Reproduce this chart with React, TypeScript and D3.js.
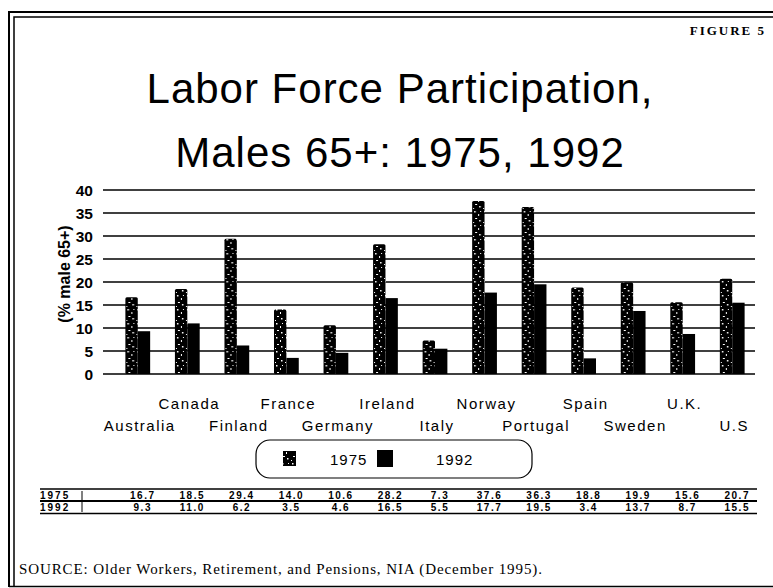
import React from 'react';
import * as d3 from 'd3';

const countries = ['Australia', 'Canada', 'Finland', 'France', 'Germany', 'Ireland', 'Italy', 'Norway', 'Portugal', 'Spain', 'Sweden', 'U.K.', 'U.S'];
const values1975 = [16.7, 18.5, 29.4, 14.0, 10.6, 28.2, 7.3, 37.6, 36.3, 18.8, 19.9, 15.6, 20.7];
const values1992 = [9.3, 11.0, 6.2, 3.5, 4.6, 16.5, 5.5, 17.7, 19.5, 3.4, 13.7, 8.7, 15.5];
const seriesNames = ['1975', '1992'];
const yTicks = [0, 5, 10, 15, 20, 25, 30, 35, 40];
const titleLines = ['Labor Force Participation,', 'Males 65+: 1975, 1992'];
const yAxisTitle = '(% male 65+)';
const figureLabel = 'FIGURE 5';
const sourceText = 'SOURCE: Older Workers, Retirement, and Pensions, NIA (December 1995).';

const W = 773;
const H = 588;

export default function App() {
  const x = d3.scaleBand<string>().domain(countries).range([113, 757]).paddingInner(0.5).paddingOuter(0.25);
  const xs = d3.scaleBand<string>().domain(seriesNames).range([0, x.bandwidth()]);
  const y = d3.scaleLinear().domain([0, 40]).range([374, 190]);
  const seriesValues = [values1975, values1992];
  const sans = 'Liberation Sans, Arial, sans-serif';
  const serif = 'Liberation Serif, Times New Roman, serif';

  return (
    <svg width={W} height={H} style={{ position: 'absolute', left: 0, top: 0, background: '#fff' }}>
      <defs>
        <pattern id="speckle" width="10" height="14" patternUnits="userSpaceOnUse">
          <rect width="10" height="14" fill="#000" />
          <rect x="2" y="1" width="1.5" height="1.5" fill="#fff" />
          <rect x="6" y="4" width="1" height="2" fill="#fff" />
          <rect x="3" y="8" width="2" height="1" fill="#fff" />
          <rect x="7" y="10" width="1.5" height="1.5" fill="#fff" />
          <rect x="1" y="12" width="1" height="1" fill="#fff" />
          <rect x="8" y="1" width="1" height="1" fill="#fff" />
        </pattern>
      </defs>
      <rect width={W} height={H} fill="#fff" />
      {/* frame */}
      <path d={`M9,${H - 1} V12 H${W}`} fill="none" stroke="#000" strokeWidth={2} />
      <path d={`M14,${H - 1} V17 H${W}`} fill="none" stroke="#000" strokeWidth={1.5} />
      <line x1={9} x2={W} y1={H - 1.5} y2={H - 1.5} stroke="#000" strokeWidth={1.5} />

      <text x={766} y={35} textAnchor="end" fontFamily={serif} fontWeight="bold" fontSize={13} letterSpacing={2}>{figureLabel}</text>

      {titleLines.map((t, i) => (
        <text key={t} x={400} y={103 + i * 64} textAnchor="middle" fontFamily={sans} fontSize={42} letterSpacing={1}>{t}</text>
      ))}

      {/* gridlines */}
      {yTicks.map((t) => (
        <g key={t}>
          <line x1={103} x2={755} y1={y(t)} y2={y(t)} stroke="#000" strokeWidth={1.3} />
          <text x={93} y={y(t) + 5.5} textAnchor="end" fontFamily={sans} fontWeight="bold" fontSize={15.5}>{t}</text>
        </g>
      ))}
      <text transform={`translate(70,274) rotate(-90)`} textAnchor="middle" fontFamily={sans} fontWeight="bold" fontSize={16}>{yAxisTitle}</text>

      {/* bars */}
      {countries.map((c, i) => (
        <g key={c} transform={`translate(${x(c)},0)`}>
          {seriesNames.map((s, j) => {
            const v = seriesValues[j][i];
            return (
              <rect key={s} x={xs(s)} y={y(v)} width={xs.bandwidth()} height={y(0) - y(v)} fill={j === 0 ? 'url(#speckle)' : '#000'} rx={j === 0 ? 1.5 : 0} />
            );
          })}
        </g>
      ))}

      {/* category labels */}
      {countries.map((c, i) => (
        <text key={c} x={(x(c) as number) + x.bandwidth() / 2 + 2} y={i % 2 === 0 ? 431 : 409} textAnchor="middle" fontFamily={sans} fontSize={15} letterSpacing={1.5}>{c}</text>
      ))}

      {/* legend */}
      <rect x={256} y={440} width={276} height={38} rx={14} fill="none" stroke="#000" strokeWidth={1.2} />
      <rect x={283} y={451} width={13} height={15} fill="url(#speckle)" />
      <text x={330} y={465} fontFamily={sans} fontSize={15} letterSpacing={1}>{seriesNames[0]}</text>
      <rect x={377} y={450} width={16} height={17} fill="#000" />
      <text x={436} y={465} fontFamily={sans} fontSize={15} letterSpacing={1}>{seriesNames[1]}</text>

      {/* data table */}
      <line x1={40} x2={757} y1={489} y2={489} stroke="#000" strokeWidth={1.5} />
      <line x1={40} x2={757} y1={501} y2={501} stroke="#000" strokeWidth={2} />
      <line x1={40} x2={757} y1={513.5} y2={513.5} stroke="#000" strokeWidth={1.5} />
      <line x1={82} x2={82} y1={491} y2={512} stroke="#000" strokeWidth={1} />
      {seriesNames.map((s, j) => (
        <g key={s}>
          <text x={40} y={498.5 + j * 12.3} fontFamily={sans} fontWeight="bold" fontSize={10} letterSpacing={2}>{s}</text>
          {countries.map((c, i) => (
            <text key={c} x={(x(c) as number) + x.bandwidth() / 2 + 5} y={498.5 + j * 12.3} textAnchor="middle" fontFamily={sans} fontWeight="bold" fontSize={10} letterSpacing={1.5}>{seriesValues[j][i].toFixed(1)}</text>
          ))}
        </g>
      ))}

      <text x={19} y={574} fontFamily={serif} fontSize={15} letterSpacing={0.9}>{sourceText}</text>
    </svg>
  );
}
